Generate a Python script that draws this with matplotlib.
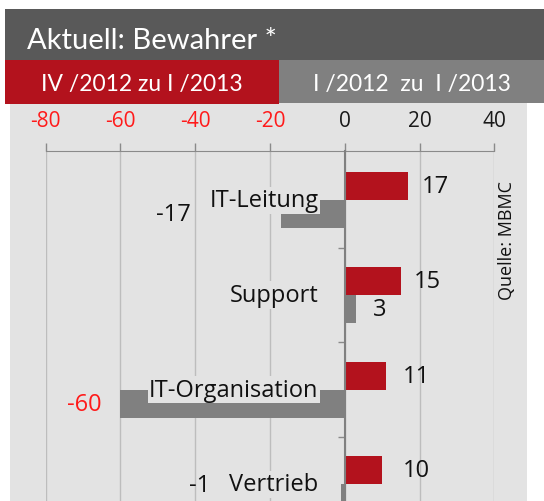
import matplotlib.pyplot as plt
from matplotlib.patches import Rectangle
import numpy as np

plt.rcParams['font.family'] = ['Open Sans', 'DejaVu Sans']
plt.rcParams['axes.unicode_minus'] = False

# Daten
title = 'Aktuell: Bewahrer *'
series_labels = ['IV /2012 zu I /2013', 'I /2012  zu  I /2013']
categories = ['IT-Leitung', 'Support', 'IT-Organisation', 'Vertrieb']
quarter_change = [17, 15, 11, 10]     # IV/2012 zu I/2013
year_change = [-17, 3, -60, -1]       # I/2012 zu I/2013
xticks = [-80, -60, -40, -20, 0, 20, 40]
source = 'Quelle: MBMC'

RED = '#b3121d'
GREY = '#808080'
DARK = '#595959'
PANEL = '#e3e3e3'
NEG_TXT = '#ff1a1a'
W, H = 544, 502


def fig_rect(fig, x0, y0, x1, y1, color):
    """Rechteck in Pixel-Koordinaten (Ursprung oben links)"""
    fig.add_artist(Rectangle((x0 / W, 1 - y1 / H), (x1 - x0) / W, (y1 - y0) / H,
                             transform=fig.transFigure, facecolor=color,
                             edgecolor='none', zorder=-1))


fig = plt.figure(figsize=(W / 100, H / 100), dpi=100)

# Hintergrund / Kopfbereich
fig_rect(fig, 10, 104, 527, 502, PANEL)
fig_rect(fig, 5, 10, 544, 61, DARK)
fig_rect(fig, 5, 61, 278.6, 105, RED)
fig_rect(fig, 278.6, 61, 544, 104, GREY)

head_font = ['Lato', 'DejaVu Sans']
fig.text(27 / W, 1 - 48.6 / H, title, color='white', fontsize=21, va='baseline',
         family=head_font)
fig.text(142 / W, 1 - 85 / H, series_labels[0], color='white', fontsize=16.5,
         ha='center', va='center', family=head_font)
fig.text(412 / W, 1 - 85 / H, series_labels[1], color='white', fontsize=16.5,
         ha='center', va='center', family=head_font)

# Diagramm
ax = fig.add_axes([45.5 / W, 0, (494.4 - 45.5) / W, (502 - 152) / H])
ax.set_facecolor('none')

y = np.arange(len(categories))
h = 0.296
ax.barh(y - h / 2, quarter_change, height=h, color=RED, zorder=2)
ax.barh(y + h / 2, year_change, height=h, color=GREY, zorder=2)

ax.set_xlim(-80, 40)
ax.set_ylim(3.177, -0.523)

ax.set_xticks(xticks)
ax.xaxis.tick_top()
ax.tick_params(axis='x', direction='out', length=5.5, width=1, color='#8a8a8a',
               labelsize=15, pad=9)
for t, v in zip(ax.xaxis.get_major_ticks(), xticks):
    t.label2.set_color(NEG_TXT if v < 0 else '#1a1a1a')
ax.grid(axis='x', color='#bdbdbd', lw=1, zorder=0)

ax.set_yticks([0.5, 1.5, 2.5])
ax.set_yticklabels([])
ax.tick_params(axis='y', direction='out', length=5, width=1, color='#8a8a8a')

ax.spines['left'].set_position(('data', 0))
ax.spines['left'].set_color('#808080')
ax.spines['left'].set_linewidth(1.5)
ax.spines['left'].set_zorder(3)
ax.spines['top'].set_color('#8a8a8a')
ax.spines['right'].set_visible(False)
ax.spines['bottom'].set_visible(False)

# Kategorien
cat_texts = []
for i, cat in enumerate(categories):
    t = ax.text(-7, i, cat, ha='right', va='center', fontsize=17, color='#111111',
                zorder=4, bbox=dict(facecolor=PANEL, edgecolor='none', pad=1.2))
    cat_texts.append(t)

fig.canvas.draw()
renderer = fig.canvas.get_renderer()
inv = ax.transData.inverted()
y_max = ax.get_ylim()[0] - 0.17   # Text nicht unten abschneiden

# Werte
for i, v in enumerate(quarter_change):
    ax.text(max(v, 12) + 3.5, i - h / 2, str(v), ha='left', va='center',
            fontsize=17, color='#111111')

for i, v in enumerate(year_change):
    ypos = min(i + h / 2, y_max)
    if v >= 0:
        ax.text(v + 4.6, ypos, str(v), ha='left', va='center',
                fontsize=17, color='#111111')
    else:
        bb = cat_texts[i].get_window_extent(renderer)
        left = inv.transform((bb.x0, bb.y0))[0]
        ax.text(min(v, left) - 5, ypos, str(v), ha='right', va='center',
                fontsize=17, color=NEG_TXT if v < -20 else '#111111')

fig.text(507 / W, 1 - 240 / H, source, rotation=90, ha='center', va='center',
         fontsize=13, color='#111111')

fig.savefig('out.png', dpi=100)
